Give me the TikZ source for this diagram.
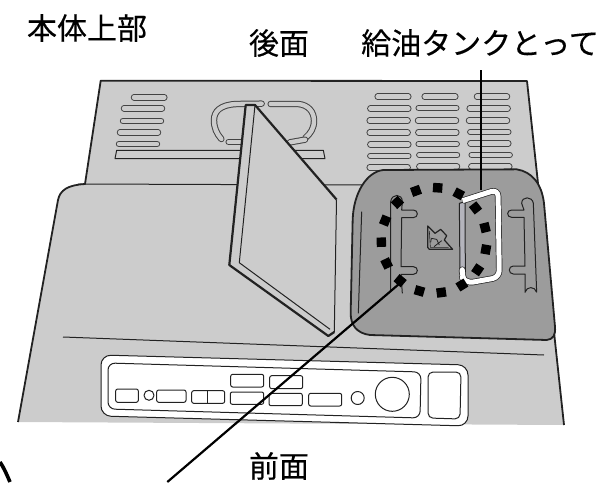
\documentclass[tikz,border=0pt]{standalone}
\usepackage{fontspec}
\newfontfamily\cjk[FakeBold=0.35]{Noto Sans CJK JP}
\definecolor{bodygray}{HTML}{CCCCCC}
\definecolor{lidgray}{HTML}{9C9C9C}
\definecolor{stripgray}{HTML}{B4B4BC}
\definecolor{ink}{HTML}{222222}
\tikzset{
  edge/.style={draw=ink,line width=1.8pt,line join=round},
  thin line/.style={draw=ink,line width=1pt,line join=round},
  slot/.style={draw=ink!85,line width=1pt,double=bodygray,double distance=4.4pt,line cap=round},
  whitebox/.style={thin line,fill=white,rounded corners=2pt},
  lead/.style={draw=black,line cap=butt},
  label/.style={font=\cjk\fontsize{30pt}{31pt}\selectfont,text=black,inner sep=0pt,anchor=center},
}
\begin{document}
\begin{tikzpicture}[x=1pt,y=-1pt]
\useasboundingbox (0,0) rectangle (605,482);
% body
\fill[bodygray] (18,422) -- (58,200) .. controls (60,190) and (68,185) .. (85,184) -- (100.7,80.7) -- (527,81) -- (564,425) -- cycle;
\draw[edge] (18,422) -- (58,200) .. controls (60,190) and (68,185) .. (85,184) -- (100.7,80.7) -- (527,81) -- (564,425);
\draw[thin line] (78,184) -- (365,185);
\draw[thin line] (63,337) -- (544,355);
% rear vents left
\begin{scope}[shift={(60,70)},scale=1/3]
\foreach \a/\b/\c in {222/313/82, 192/306/115, 189/303/153, 180/294/187, 177/291/222}
  \draw[slot] (\a,\c) -- (\b,\c);
\draw[thin line,fill=bodygray] (170,241) -- (790,241) -- (795,266) -- (165,266) -- cycle;
% handle loop
\draw[slot] (605,101) -- (530,102) .. controls (480,104) and (462,125) .. (462,150) .. controls (462,175) and (470,190) .. (484,207);
\draw[slot] (632,102) -- (715,102) .. controls (745,105) and (762,125) .. (762,152) .. controls (762,175) and (752,190) .. (736,204);
\draw[slot] (506,216) -- (560,216);
\draw[slot] (690,217) -- (735,209);
\end{scope}
% rear vents right
\begin{scope}[shift={(340,70)},scale=1/3]
\foreach \a/\b/\c in {113/205/80, 91/205/116, 89/203/152, 89/203/188, 91/205/223, 91/205/258, 89/203/292,
  254/346/80, 236/349/114, 234/348/152, 235/349/187, 236/350/222, 238/351/255, 238/351/290,
  411/501/80, 389/503/115, 387/501/152, 391/505/186, 391/505/220, 395/509/255, 394/508/290}
  \draw[slot] (\a,\c) -- (\b,\c);
\end{scope}
% folded cover
\fill[bodygray] (245.7,105) -- (255,105) -- (336.5,199.5) -- (334.3,332) -- (328.3,336) -- (229.3,265) -- cycle;
\draw[edge,line width=2.2pt] (336.5,199.5) -- (255,105) -- (245.7,105) -- (229.3,265) -- (328.3,336) -- (334.3,332);
\draw[thin line] (336.5,199.5) -- (334.3,332);
\draw[thin line] (255,105) -- (239.3,262.7) -- (330,329.3);
% control panel
\draw[thin line,fill=white,rounded corners=10pt] (101,355) -- (468,365) -- (468,426) -- (101,416) -- cycle;
\draw[thin line,rounded corners=7pt] (108,363) -- (421,372) -- (420,418) -- (108,409) -- cycle;
\draw[thin line,rounded corners=5pt] (428,372) -- (461,372) -- (460,419) -- (428,418) -- cycle;
\draw[whitebox] (115.7,389) rectangle (138.3,402.3);
\draw[thin line] (149,395.3) circle (5);
\draw[whitebox] (156.7,390) rectangle (186,402.3);
\draw[whitebox] (191.7,390.7) rectangle (224.7,403.3);
\draw[thin line] (207.7,390.7) -- (207.7,403.3);
\draw[whitebox] (230.7,374.3) rectangle (263.7,387);
\draw[whitebox] (269.7,375.7) rectangle (302.7,388.7);
\draw[whitebox] (230.3,392) rectangle (263.7,404.3);
\draw[whitebox] (269,393.3) rectangle (302.3,405.7);
\draw[whitebox] (308.7,393.3) rectangle (341.7,406);
\draw[thin line] (357.7,398) circle (6.5);
\draw[thin line] (392.3,394.3) circle (17);
% top lid
\begin{scope}[shift={(340,160)},scale=1/3]
\draw[edge,fill=lidgray] (130,30) -- (530,28) .. controls (575,35) and (605,70) .. (612,130) -- (645,500) .. controls (647,525) and (640,538) .. (620,540) -- (90,525) .. controls (50,520) and (32,495) .. (32,460) -- (38,180) .. controls (40,100) and (80,35) .. (130,30) -- cycle;
\draw[thin line] (65,155) -- (55,460);
% left guide
\draw[thin line] (152,395) -- (152,125) .. controls (155,100) and (187,100) .. (187,125) -- (185,150) -- (220,150) .. controls (236,150) and (236,173) .. (220,173) -- (185,173) -- (183,320) -- (220,320) .. controls (236,320) and (236,343) .. (220,343) -- (183,343) -- (187,400);
% right guide
\draw[thin line] (590,397) -- (580,130) .. controls (577,108) and (545,108) .. (545,130) -- (552,150) -- (515,150) .. controls (499,150) and (499,172) .. (515,172) -- (552,172) -- (555,318) -- (520,318) .. controls (504,318) and (504,342) .. (520,342) -- (555,342) -- (555,397) .. controls (560,378) and (585,378) .. (590,397);
% tank handle
\draw[thin line,fill=stripgray] (358,130) -- (375,125) -- (376,335) -- (360,340) -- cycle;
\draw[draw=ink,line width=0.7pt,double=white,double distance=5pt,line join=round,rounded corners=7pt] (368,122) -- (474,88) -- (478,352) -- (378,370) -- (365,350) -- (366,338);
\end{scope}
% icon
\begin{scope}[shift={(410,215)},scale=1/3]
\draw[draw=ink,line width=1.2pt,line join=round] (53,33) -- (75,55) -- (92,43) -- (110,62) -- (103,75) -- (128,103) -- (58,103) -- (53,97) -- cycle;
\draw[draw=ink,line width=0.6pt] (58,48) -- (61,97) -- (116,97);
\draw[draw=ink,line width=0.8pt] (64,70) -- (80,73) (64,70) -- (62,82) (72,95) -- (95,77) (80,73) -- (88,90);
\end{scope}
% dashed circle
\foreach \k in {0,...,14}{
  \pgfmathsetmacro{\ang}{86-24*\k}
  \pgfmathsetmacro{\px}{340+(282+158*cos(\ang))/3}
  \pgfmathsetmacro{\py}{160+(241-158*sin(\ang))/3}
  \fill[black,shift={(\px,\py)},rotate=\ang] (-4.7,-4.7) rectangle (4.7,4.7);
}
% labels
\node[label] (upper) at (87,28) {本体上部};
\node[label] (rear) at (279,43) {後面};
\node[label] (tanklabel) at (480,43) {給油タンクとって};
\node[label] (front) at (279,466) {前面};
% leaders
\coordinate (tanktop) at (480.7,70);
\coordinate (tankend) at (480.7,190);
\coordinate (capend) at (401.7,281.7);
\coordinate (capfree) at (167.3,482);
\draw[lead,line width=1.6pt] (tanktop) -- (tankend);
\draw[lead,line width=2.2pt] (capend) -- (capfree);
\coordinate (arcstart) at (0,462);
\coordinate (arcend) at (10,482);
\draw[lead,line width=3.6pt] (arcstart) .. controls (4,468) and (7,475) .. (arcend);
\end{tikzpicture}
\end{document}
